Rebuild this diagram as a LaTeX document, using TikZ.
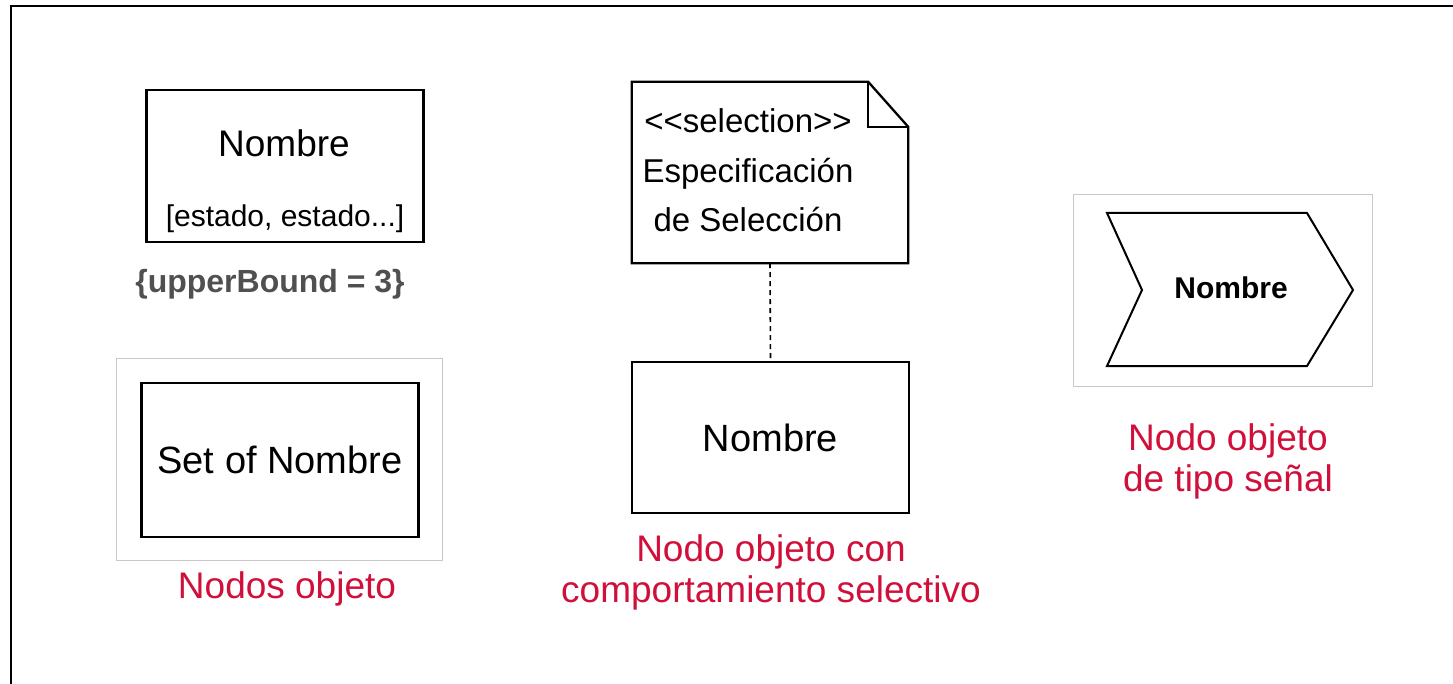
\documentclass[tikz,border=0pt]{standalone}
\usepackage{fontspec}
\setmainfont{Liberation Sans}
\usetikzlibrary{positioning,calc}
\definecolor{rojo}{HTML}{D0103A}
\definecolor{grismarco}{HTML}{C8C8C8}
\definecolor{gristexto}{HTML}{505050}
\newcommand{\tam}[2]{\fontsize{#1}{#2}\selectfont}

\begin{document}
\begin{tikzpicture}[x=1pt, y=-1pt,
caja/.style={draw, line width=2.3pt, minimum width=277pt, minimum height=152pt, inner sep=0pt, font=\tam{38}{44}},
marco/.style={draw=grismarco, line width=0.9pt, inner sep=0pt},
linea/.style={inner sep=0pt},
etiqueta/.style={text=rojo, align=center, inner sep=0pt, font=\tam{37}{41}},
guiones/.style={line width=1.6pt, dash pattern=on 5pt off 4pt}
]
\useasboundingbox (0,0) rectangle (1453,684);
\draw[line width=2.8pt] (11,684) -- (11,6) -- (1453,6);

% nodos objeto
\node[caja] (objeto) at (285,166) {};
\node[linea, font=\tam{37}{42}] (nombre) at (284,143) {Nombre};
\node[linea, font=\tam{30}{36}] (estados) at (285,219) {[estado, estado...]};
\node[linea, font=\bfseries\tam{32}{38}, text=gristexto] (cota) at (270,284) {\{upperBound = 3\}};
\node[marco, minimum width=326pt, minimum height=202pt] (marcoA) at (279,459) {};
\node[caja, minimum height=154pt] (conjunto) at (280,460) {Set of Nombre};
\node[etiqueta, anchor=base] (lblA) at (287,598) {Nodos objeto};

% comportamiento selectivo
\node[linea, minimum width=276pt, minimum height=181pt] (nota) at (770,172.5) {};
\node[linea, align=center, font=\tam{33}{49.5}] (espec) at (748,170.5) {<{}<selection>{}>\\Especificación\\de Selección};
\draw[line width=2.3pt, line join=miter] (nota.north west) -- ([xshift=-40pt]nota.north east)
  -- ([yshift=-45pt]nota.north east) -- (nota.south east) -- (nota.south west) -- cycle;
\draw[line width=2pt] ([xshift=-40pt]nota.north east) |- ([yshift=-45pt]nota.north east);
\node[caja, minimum height=151pt] (seleccion) at (770.5,437.5) {Nombre};
\draw[guiones] (nota.south) -- (seleccion.north);
\node[etiqueta] (lblB) at (771,572) {Nodo objeto con\\comportamiento selectivo};

% tipo senal
\node[marco, minimum width=299pt, minimum height=192pt] (marcoC) at (1222.5,290) {};
\node[linea, font=\bfseries\tam{30}{36}] (senal) at (1231,288) {Nombre};
\draw[line width=2pt, line join=miter] (1107,213) -- (1307,213) -- (1353,290) -- (1307,366)
  -- (1107,366) -- (1142,290) -- cycle;
\node[etiqueta] (lblC) at (1228,461) {Nodo objeto\\de tipo señal};
\end{tikzpicture}
\end{document}
